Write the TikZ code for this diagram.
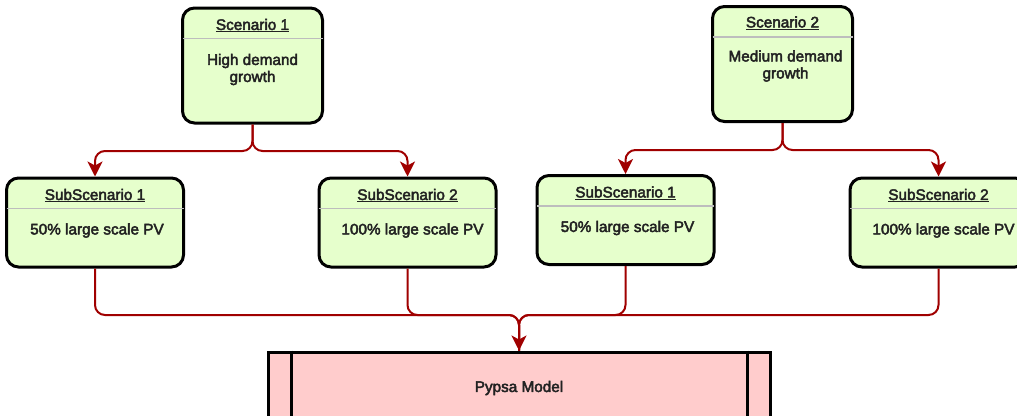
\documentclass[tikz,border=0pt]{standalone}
\usepackage{fontspec}
\setmainfont{Liberation Sans}
\newcommand{\heavytext}[1]{\special{pdf:literal 2 Tr 0.45 w}#1\special{pdf:literal 0 Tr}}
\usetikzlibrary{arrows.meta,calc}
\definecolor{boxgreen}{HTML}{E6FFCC}
\definecolor{boxpink}{HTML}{FFCCCC}
\definecolor{connred}{HTML}{A00000}
\definecolor{txtgray}{HTML}{222222}
\definecolor{sepgray}{HTML}{BDBDBD}
\tikzset{
  greenbox/.style={draw=black, line width=3pt, fill=boxgreen, rounded corners=12pt, inner sep=0pt},
  subbox/.style={greenbox, minimum width=177pt, minimum height=89pt},
  scenbox/.style={greenbox, minimum width=140pt, minimum height=115pt},
  procbox/.style={draw=black, line width=3pt, fill=boxpink, inner sep=0pt, minimum width=502pt, minimum height=66pt},
  sepline/.style={draw=sepgray, line width=1.5pt},
  txt/.style={font=\fontsize{15.3}{17}\selectfont, text=txtgray, inner sep=0pt, align=center},
  conn/.style={draw=connred, line width=2pt, rounded corners=10pt, -{Stealth[length=15pt,width=15pt,inset=4pt]}},
  connplain/.style={draw=connred, line width=2pt, rounded corners=10pt},
}
\begin{document}
\begin{tikzpicture}[x=1pt,y=-1pt]
\useasboundingbox (0,0) rectangle (1017,415);
\clip (0,0) rectangle (1017,415);
% Scenario boxes
\node[scenbox] (s1) at (252.5,65.5) {};
\node[scenbox] (s2) at (782.5,64) {};
% Sub-scenario boxes
\node[subbox] (a1) at (95,222.5) {};
\node[subbox] (a2) at (407.5,222.5) {};
\node[subbox] (b1) at (625.5,220) {};
\node[subbox] (b2) at (938.5,222.5) {};
% Pypsa
\node[procbox] (py) at (519,385) {};
\draw[line width=3pt] ([xshift=25pt]py.north west) -- ([xshift=25pt]py.south west);
\draw[line width=3pt] ([xshift=-24pt]py.north east) -- ([xshift=-24pt]py.south east);
\node[txt] (pyt) at (519,388) {\heavytext{Pypsa Model}};
% separators
\foreach \n in {s1,s2,a1,a2,b1,b2}{
  \draw[sepline] ([xshift=1.5pt,yshift=-32pt]\n.north west) -- ([xshift=-1.5pt,yshift=-32pt]\n.north east);
}
% titles
\node[txt] (s1t) at ([yshift=-19pt]s1.north) {\underline{\heavytext{Scenario 1}}};
\node[txt] (s2t) at ([yshift=-18pt]s2.north) {\underline{\heavytext{Scenario 2}}};
\node[txt] (a1t) at ([yshift=-19pt]a1.north) {\underline{\heavytext{SubScenario 1}}};
\node[txt] (a2t) at ([yshift=-19pt]a2.north) {\underline{\heavytext{SubScenario 2}}};
\node[txt] (b1t) at ([yshift=-19pt]b1.north) {\underline{\heavytext{SubScenario 1}}};
\node[txt] (b2t) at ([yshift=-19pt]b2.north) {\underline{\heavytext{SubScenario 2}}};
% bodies
\node[txt] (s1b) at ([yshift=-63pt]s1.north) {\heavytext{High demand}\\\heavytext{growth}};
\node[txt] (s2b) at ([xshift=3pt,yshift=-61pt]s2.north) {\heavytext{Medium demand}\\\heavytext{growth}};
\node[txt] (a1b) at ([xshift=2pt,yshift=-54pt]a1.north) {\heavytext{50\% large scale PV}};
\node[txt] (a2b) at ([xshift=5pt,yshift=-54pt]a2.north) {\heavytext{100\% large scale PV}};
\node[txt] (b1b) at ([xshift=2pt,yshift=-54pt]b1.north) {\heavytext{50\% large scale PV}};
\node[txt] (b2b) at ([xshift=5pt,yshift=-54pt]b2.north) {\heavytext{100\% large scale PV}};
% connectors top
\coordinate (j1) at (252.5,151);
\coordinate (j2) at (782.5,150);
\draw[conn] (s1.south) -- (j1) -| (a1.north);
\draw[conn] (s1.south) -- (j1) -| (a2.north);
\draw[conn] (s2.south) -- (j2) -| (b1.north);
\draw[conn] (s2.south) -- (j2) -| (b2.north);
% connectors bottom
\coordinate (j0) at (519,315);
\draw[connplain] (a1.south) |- (j0) -- (py.north);
\draw[connplain] (a2.south) |- (j0) -- (py.north);
\draw[connplain] (b1.south) |- (j0) -- (py.north);
\draw[conn] (b2.south) |- (j0) -- (py.north);
\end{tikzpicture}
\end{document}
